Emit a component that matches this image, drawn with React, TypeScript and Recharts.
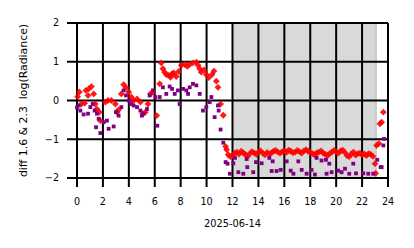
import React from 'react';
import { ScatterChart, Scatter, XAxis, YAxis, CartesianGrid, ReferenceArea } from 'recharts';

const xTicks = [0, 2, 4, 6, 8, 10, 12, 14, 16, 18, 20, 22, 24];
const yTicks = [-2, -1, 0, 1, 2];
const dateLabel = '2025-06-14';
const yLabel = 'diff 1.6 & 2.3  log(Radiance)';
const shadeStart = 11.95;
const shadeEnd = 23.15;
const shadeEdgeStart = 22.95;

const redHours = [
  0.05, 0.18, 0.33, 0.59, 0.69, 0.85, 0.9, 1.11, 1.29, 1.41, 1.54, 1.72, 1.8,
  2.19, 2.39, 2.65, 2.96, 3.09, 3.21, 3.42, 3.6, 3.78, 3.99, 4.19, 4.37, 4.63,
  4.89, 5.07, 5.27, 5.48, 5.66, 5.85, 6.15, 6.38, 6.5, 6.63, 6.76, 6.89, 7.07,
  7.22, 7.33, 7.48, 7.66, 7.85, 8.05, 8.31, 8.51, 8.7, 8.95, 9.21, 9.34, 9.47,
  9.59, 9.8, 9.98, 10.16, 10.42, 10.57, 10.75, 10.88, 11.08, 11.29, 11.47, 11.55,
];
const redValues = [
  0.1, 0.22, -0.09, -0.07, 0.26, 0.13, 0.3, 0.36, 0.17, -0.09, -0.22, -0.3, -0.52,
  -0.04, 0.0, 0.0, -0.09, -0.3, -0.24, 0.17, 0.41, 0.33, 0.22, 0.09, 0.0, 0.04,
  -0.04, -0.34, -0.3, -0.09, 0.17, 0.22, -0.39, 0.43, 0.97, 0.82, 0.73, 0.67, 0.65,
  0.6, 0.69, 0.71, 0.62, 0.75, 0.91, 0.93, 0.88, 0.93, 0.97, 0.99, 0.91, 0.82,
  0.73, 0.79, 0.67, 0.59, 0.67, 0.76, 0.5, 0.34, -0.09, -0.38, -1.19, -1.27,
];

const redBandStart = 11.67;
const redBandStep = 1 / 6;
const redBandValues = [
  -1.4, -1.45,
  -1.42, -1.36, -1.33, -1.38, -1.31, -1.35,
  -1.4, -1.44, -1.37, -1.32, -1.35, -1.39,
  -1.33, -1.3, -1.36, -1.4, -1.34, -1.38,
  -1.35, -1.31, -1.29, -1.33, -1.36, -1.32,
  -1.3, -1.34, -1.28, -1.31, -1.35, -1.33,
  -1.29, -1.32, -1.36, -1.3, -1.27, -1.31,
  -1.34, -1.37, -1.4, -1.35, -1.33, -1.3,
  -1.36, -1.39, -1.42, -1.37, -1.33, -1.29,
  -1.32, -1.36, -1.3, -1.28, -1.34, -1.42,
  -1.45, -1.38, -1.33, -1.41, -1.37, -1.36,
  -1.4, -1.38, -1.42, -1.37, -1.39, -1.44,
];

const redTailHours = [23.0, 23.05, 23.12, 23.3, 23.38, 23.51, 23.64];
const redTailValues = [-1.63, -1.88, -1.16, -1.11, -0.6, -0.56, -0.3];

const purpleHours = [
  0.0, 0.13, 0.26, 0.51, 0.85, 1.03, 1.21, 1.36, 1.47, 1.54, 1.67, 1.8, 2.06,
  2.31, 2.44, 2.83, 3.01, 3.21, 3.42, 3.6, 3.78, 3.99, 4.19, 4.37, 4.63, 4.89,
  5.01, 5.14, 5.4, 5.61, 5.86, 6.04, 6.2, 6.38, 6.63, 6.89, 7.15, 7.33, 7.54,
  7.79, 7.92, 8.18, 8.44, 8.57, 8.7, 8.95, 9.21, 9.47, 9.72, 9.98, 10.24, 10.37,
  10.62, 10.88, 10.93, 11.08, 11.29, 11.47, 11.62, 11.8,
  12.06, 12.19, 12.45, 12.83, 13.09, 13.14, 13.6, 13.81, 14.25, 14.84, 15.02,
  15.1, 15.4, 15.72, 16.18, 16.49, 16.7, 17.08, 17.34, 17.72, 18.1, 18.36, 18.49,
  18.87, 19.21, 19.26, 19.47, 19.65, 20.16, 20.42, 20.68, 21.01, 21.32, 21.53,
  22.09, 22.48, 22.86, 23.17, 23.43, 23.51, 23.64, 23.69,
];
const purpleValues = [
  -0.18, -0.13, -0.26, -0.36, -0.34, -0.17, -0.09, -0.26, -0.69, -0.34, -0.47, -0.84, -0.56,
  -0.52, -0.73, -0.67, -0.3, -0.39, -0.17, 0.26, 0.13, 0.0, -0.09, -0.13, -0.17, -0.26,
  -0.39, -0.34, -0.22, 0.13, 0.26, 0.09, -0.65, 0.09, 0.34, 0.17, 0.36, 0.3, 0.17,
  0.26, -0.09, 0.3, 0.26, 0.17, 0.34, 0.43, 0.39, 0.17, -0.26, -0.17, -0.04, 0.09,
  -0.43, -0.13, -0.26, -0.75, -1.09, -1.59, -1.63, -1.89,
  -1.62, -1.48, -1.85, -1.89, -1.51, -1.72, -1.85, -1.59, -1.62, -1.48, -1.82,
  -1.57, -1.82, -1.79, -1.57, -1.81, -1.89, -1.57, -1.79, -1.89, -1.79, -1.91, -1.48,
  -1.55, -1.53, -1.89, -1.63, -1.85, -1.81, -1.85, -1.76, -1.89, -1.63, -1.88,
  -1.88, -1.89, -1.89, -1.53, -1.72, -1.72, -1.16, -0.99,
];

const redData = [
  ...redHours.map((h, i) => ({ x: h, y: redValues[i] })),
  ...redBandValues.map((v, i) => ({ x: redBandStart + i * redBandStep, y: v })),
  ...redTailHours.map((h, i) => ({ x: h, y: redTailValues[i] })),
];
const purpleData = purpleHours.map((h, i) => ({ x: h, y: purpleValues[i] }));

const FONT = 'DejaVu Sans';

const Diamond = (p: any) => {
  const { cx, cy } = p;
  const r = 3.4;
  return (
    <path
      d={`M${cx},${cy - r}L${cx + r},${cy}L${cx},${cy + r}L${cx - r},${cy}Z`}
      fill="#ff0000"
      fillOpacity={0.9}
    />
  );
};

const Square = (p: any) => {
  const { cx, cy } = p;
  const s = 3.8;
  return <rect x={cx - s / 2} y={cy - s / 2} width={s} height={s} fill="#800080" />;
};

const fmtY = (v: number) => (v < 0 ? `\u2212${-v}` : `${v}`);

const YLabel = (props: any) => {
  const vb = props.viewBox || { y: 23, height: 155 };
  const cx = 23;
  const cy = vb.y + vb.height / 2;
  return (
    <text
      x={cx}
      y={cy}
      transform={`rotate(-90, ${cx}, ${cy})`}
      textAnchor="middle"
      dominantBaseline="central"
      fontFamily={FONT}
      fontSize={10.9}
      fill="#000"
      style={{ whiteSpace: 'pre' }}
    >
      {yLabel}
    </text>
  );
};

export default function App() {
  return (
    <div style={{ position: 'absolute', left: 0, top: 0, width: 414, height: 248, background: '#fff' }}>
      <ScatterChart
        width={414}
        height={248}
        margin={{ top: 23, right: 26, bottom: 15, left: 0 }}
      >
        <CartesianGrid stroke="#000" strokeWidth={2} />
        <ReferenceArea
          x1={shadeStart}
          x2={shadeEnd}
          y1={-2}
          y2={2}
          fill="#000"
          fillOpacity={0.15}
          stroke="none"
        />
        <ReferenceArea
          x1={shadeEdgeStart}
          x2={shadeEnd}
          y1={-2}
          y2={2}
          fill="#000"
          fillOpacity={0.05}
          stroke="none"
        />
        <XAxis
          type="number"
          dataKey="x"
          domain={[0, 24]}
          ticks={xTicks}
          interval={0}
          height={55}
          tickSize={9}
          tickMargin={11}
          tick={{ fill: '#000', fontFamily: FONT, fontSize: 9.6 }}
          tickLine={{ stroke: '#000', strokeWidth: 2 }}
          axisLine={{ stroke: '#000', strokeWidth: 2 }}
          label={{ value: dateLabel, position: 'insideBottom', offset: 6, fill: '#000', fontFamily: FONT, fontSize: 9.8 }}
        />
        <YAxis
          type="number"
          dataKey="y"
          domain={[-2, 2]}
          ticks={yTicks}
          interval={0}
          width={77}
          tickSize={10}
          tickMargin={8}
          tickFormatter={fmtY}
          tick={{ fill: '#000', fontFamily: FONT, fontSize: 9.6 }}
          tickLine={{ stroke: '#000', strokeWidth: 2 }}
          axisLine={{ stroke: '#000', strokeWidth: 2 }}
          label={<YLabel />}
        />
        <Scatter data={redData} shape={Diamond} isAnimationActive={false} />
        <Scatter data={purpleData} shape={Square} isAnimationActive={false} />
      </ScatterChart>
    </div>
  );
}
